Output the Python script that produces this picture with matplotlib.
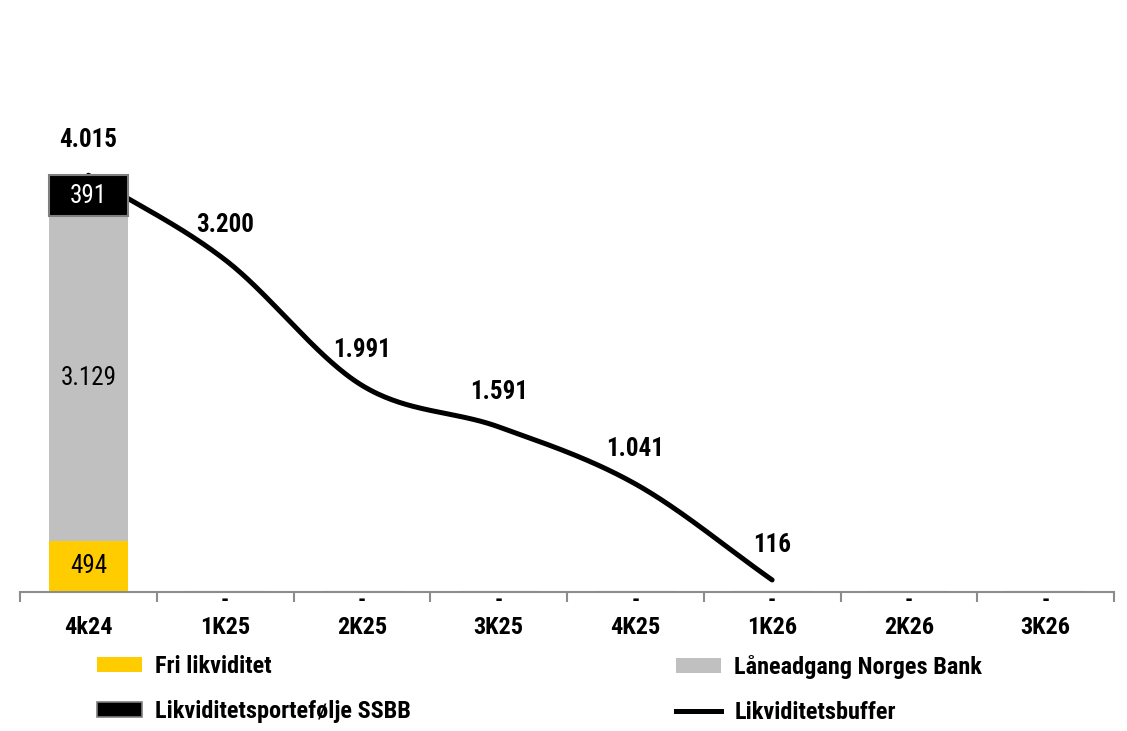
import numpy as np
import matplotlib
matplotlib.use("Agg")
import matplotlib.pyplot as plt
from matplotlib.patches import Patch
from matplotlib.lines import Line2D

plt.rcParams['font.family'] = ['Roboto Condensed', 'Liberation Sans', 'DejaVu Sans']

# --- data -------------------------------------------------------------
quarters = ["4k24", "1K25", "2K25", "3K25", "4K25", "1K26", "2K26", "3K26"]
fri_likviditet = [494, 0, 0, 0, 0, 0, 0, 0]
laaneadgang = [3129, 0, 0, 0, 0, 0, 0, 0]
portefolje_ssbb = [391, 0, 0, 0, 0, 0, 0, 0]
buffer_vals = [4015, 3200, 1991, 1591, 1041, 116]

series_names = ["Fri likviditet", "Låneadgang Norges Bank",
                "Likviditetsportefølje SSBB", "Likviditetsbuffer"]

YELLOW = "#FFCC00"
GREY = "#C0C0C0"
BLACK = "#000000"
AXIS_GREY = "#8C8C8C"


def fmt(v):
    return f"{v:,}".replace(",", ".")


def smooth_curve(x, y, n=60):
    """Piecewise cubic Bezier through the points, tangents from neighbours."""
    x = np.asarray(x, float)
    y = np.asarray(y, float)
    px = np.concatenate([[2 * x[0] - x[1]], x, [2 * x[-1] - x[-2]]])
    py = np.concatenate([[2 * y[0] - y[1]], y, [2 * y[-1] - y[-2]]])
    xs, ys = [], []
    t = np.linspace(0, 1, n)
    for i in range(1, len(px) - 2):
        p0x, p1x, p2x, p3x = px[i - 1:i + 3]
        p0y, p1y, p2y, p3y = py[i - 1:i + 3]
        c1x, c1y = p1x + (p2x - p0x) / 6, p1y + (p2y - p0y) / 6
        c2x, c2y = p2x - (p3x - p1x) / 6, p2y - (p3y - p1y) / 6
        bx = (1 - t) ** 3 * p1x + 3 * (1 - t) ** 2 * t * c1x + 3 * (1 - t) * t ** 2 * c2x + t ** 3 * p2x
        by = (1 - t) ** 3 * p1y + 3 * (1 - t) ** 2 * t * c1y + 3 * (1 - t) * t ** 2 * c2y + t ** 3 * p2y
        xs.append(bx)
        ys.append(by)
    return np.concatenate(xs), np.concatenate(ys)


W, H = 1127, 731
fig = plt.figure(figsize=(W / 100, H / 100), dpi=100)
ax = fig.add_axes([20 / W, (H - 592) / H, (1114 - 20) / W, (592 - 73) / H])

x = np.arange(len(quarters))
bw = 0.58

# smoothed buffer line, drawn behind the bars
lx, ly = smooth_curve(x[:len(buffer_vals)], buffer_vals)
ax.plot(lx, ly, color=BLACK, lw=3.6, solid_capstyle='round', zorder=1)

ax.bar(x, fri_likviditet, bw, color=YELLOW, zorder=2)
ax.bar(x, laaneadgang, bw, bottom=fri_likviditet, color=GREY, zorder=2)
bottom3 = np.array(fri_likviditet) + np.array(laaneadgang)
ax.bar(x, portefolje_ssbb, bw, bottom=bottom3, color=BLACK,
       edgecolor="#7F7F7F", linewidth=1.5, zorder=2)

# segment labels
seg_font = dict(fontsize=18, ha='center', va='center')
for i in range(len(quarters)):
    if fri_likviditet[i]:
        ax.text(x[i], fri_likviditet[i] / 2, fmt(fri_likviditet[i]), color=BLACK, **seg_font)
    if laaneadgang[i]:
        ax.text(x[i], fri_likviditet[i] + laaneadgang[i] / 2, fmt(laaneadgang[i]),
                color=BLACK, **seg_font)
    if portefolje_ssbb[i]:
        ax.text(x[i], bottom3[i] + portefolje_ssbb[i] / 2, fmt(portefolje_ssbb[i]),
                color='white', **seg_font)
    total = fri_likviditet[i] + laaneadgang[i] + portefolje_ssbb[i]
    if total == 0:
        ax.annotate("-", (x[i], 0), xytext=(0, -9), textcoords='offset pixels',
                    ha='center', va='center', fontsize=16, fontweight='bold')

# buffer labels
for i, v in enumerate(buffer_vals):
    ax.annotate(fmt(v), (x[i], v), xytext=(0, 35), textcoords='offset pixels',
                ha='center', va='center', fontsize=18, fontweight='bold')

ax.set_xlim(-0.5, len(quarters) - 0.5)
ax.set_ylim(0, 5000)

for s in ['left', 'right', 'top']:
    ax.spines[s].set_visible(False)
ax.spines['bottom'].set_color(AXIS_GREY)
ax.spines['bottom'].set_linewidth(1.5)
ax.set_yticks([])

ax.set_xticks(np.arange(-0.5, len(quarters), 1.0))
ax.set_xticklabels([])
ax.tick_params(axis='x', which='major', length=7, width=1.5, color=AXIS_GREY, direction='out')
ax.set_xticks(x, minor=True)
ax.set_xticklabels(quarters, minor=True, fontsize=17.5, fontweight='bold')
ax.tick_params(axis='x', which='minor', length=0, pad=17)

# legend in two columns
h_fri = Patch(facecolor=YELLOW, edgecolor='none')
h_laan = Patch(facecolor=GREY, edgecolor='none')
h_ssbb = Patch(facecolor=BLACK, edgecolor="#7F7F7F", linewidth=1.2)
h_buf = Line2D([], [], color=BLACK, lw=3.6)

leg_kw = dict(frameon=False, prop={'weight': 'bold', 'size': 17.5},
              handlelength=1.85, handleheight=0.58, handletextpad=0.55,
              labelspacing=0.9, borderpad=0, borderaxespad=0, loc='upper left')
fig.legend([h_fri, h_ssbb], [series_names[0], series_names[2]],
           bbox_to_anchor=(97 / W, (H - 655) / H), **leg_kw)
fig.legend([h_laan, h_buf], [series_names[1], series_names[3]],
           bbox_to_anchor=(676 / W, (H - 655) / H), **leg_kw)

fig.savefig("out.png", dpi=100, facecolor='white')
